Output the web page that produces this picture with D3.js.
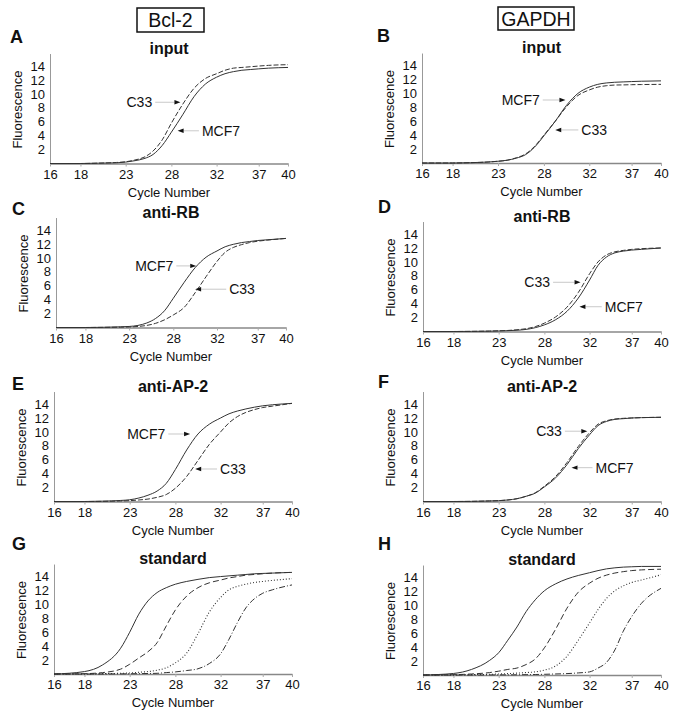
<!DOCTYPE html>
<html><head><meta charset="utf-8">
<script src="https://cdn.jsdelivr.net/npm/d3@7"></script>
<style>
body{margin:0;background:#fff}
svg{display:block;background:#fff}
text{font-family:"Liberation Sans",Arial,Helvetica,sans-serif;fill:#111}
</style>
</head><body><svg id="c" width="676" height="715"></svg>
<script>
// ---------- data ----------
const cycles = [16,18,20,22,23,24,25,26,27,28,29,30,31,32,33,34,35,36,37,38,40];
const xTickLabels = [16,18,23,28,32,37,40];
const yTickLabels = [2,4,6,8,10,12,14];
const genes = ["Bcl-2","GAPDH"];
const panelIds = ["A","B","C","D","E","F","G","H"];
const panelTitles = ["input","input","anti-RB","anti-RB","anti-AP-2","anti-AP-2","standard","standard"];

// A: Bcl-2 input
const aMCF7 = [0,0,0.05,0.1,0.2,0.4,0.7,1.3,2.6,4.5,7.0,9.6,11.4,12.4,12.9,13.2,13.4,13.5,13.6,13.7,13.8];
const aC33  = [0,0,0.05,0.15,0.25,0.5,0.9,1.8,3.4,5.8,8.5,10.8,12.2,12.9,13.4,13.7,13.8,13.9,14.0,14.1,14.2];
// B: GAPDH input
const bMCF7 = [0,0,0.05,0.15,0.25,0.4,0.7,1.2,2.3,3.9,6.0,8.3,10.0,10.9,11.3,11.5,11.6,11.65,11.7,11.75,11.8];
const bC33  = [0,0,0.05,0.15,0.25,0.4,0.75,1.3,2.4,4.0,6.0,8.1,9.7,10.5,10.9,11.1,11.2,11.22,11.25,11.27,11.3];
// C: Bcl-2 anti-RB
const cMCF7 = [0,0,0.03,0.1,0.15,0.3,0.65,1.3,2.4,4.2,6.5,8.6,10.1,11.0,11.6,11.95,12.2,12.35,12.5,12.6,12.8];
const cC33  = [0,0,0.02,0.05,0.08,0.15,0.3,0.6,1.1,1.8,2.9,5.0,7.3,9.5,10.8,11.5,11.9,12.2,12.4,12.55,12.8];
// D: GAPDH anti-RB
const dMCF7 = [0,0,0.02,0.05,0.08,0.12,0.18,0.3,0.55,0.95,1.7,2.9,4.8,7.4,9.5,10.7,11.3,11.55,11.7,11.8,12.0];
const dC33  = [0,0,0.02,0.06,0.1,0.15,0.25,0.4,0.7,1.2,2.1,3.5,5.6,8.3,10.0,11.0,11.45,11.65,11.8,11.9,12.0];
// E: Bcl-2 anti-AP-2
const eMCF7 = [0,0,0.05,0.15,0.25,0.5,0.9,1.5,2.6,4.6,7.4,9.7,11.1,12.0,12.6,13.0,13.3,13.55,13.75,13.9,14.1];
const eC33  = [0,0,0.02,0.08,0.12,0.22,0.35,0.6,1.0,1.9,3.6,5.9,8.2,10.0,11.3,12.2,12.8,13.2,13.5,13.7,14.1];
// F: GAPDH anti-AP-2
const fMCF7 = [0,0,0.02,0.08,0.12,0.22,0.4,0.75,1.2,2.1,3.4,5.3,7.6,9.6,10.9,11.5,11.8,11.9,12.0,12.05,12.1];
const fC33  = [0,0,0.02,0.08,0.12,0.22,0.4,0.75,1.25,2.2,3.6,5.6,7.9,9.9,11.1,11.6,11.85,11.95,12.0,12.05,12.1];
// G: Bcl-2 standard (4 dilutions)
const gStd1 = [0,0.35,1.3,3.7,6.0,8.6,10.5,11.7,12.4,12.9,13.3,13.6,13.85,14.0,14.1,14.2,14.3,14.4,14.45,14.5,14.6];
const gStd2 = [0,0.05,0.2,0.7,1.4,2.3,3.2,4.5,6.9,9.2,11.2,12.4,13.1,13.5,13.8,14.0,14.2,14.3,14.4,14.5,14.6];
const gStd3 = [0,0,0.05,0.1,0.15,0.25,0.35,0.55,0.9,1.6,3.0,5.8,8.9,11.0,12.1,12.6,12.9,13.15,13.3,13.45,13.7];
const gStd4 = [0,0,0,0.02,0.03,0.05,0.07,0.1,0.2,0.3,0.5,0.75,1.5,2.9,5.0,7.4,9.5,10.8,11.6,12.1,12.8];
// H: GAPDH standard
const hStd1 = [0,0.22,0.8,2.1,3.2,5.0,6.9,9.1,10.8,12.1,13.1,13.8,14.3,14.7,15.0,15.25,15.4,15.5,15.55,15.6,15.6];
const hStd2 = [0,0.05,0.15,0.35,0.55,0.8,1.0,1.5,2.3,3.9,6.6,9.6,11.9,13.2,13.9,14.35,14.65,14.85,15.0,15.1,15.2];
const hStd3 = [0,0.02,0.05,0.1,0.15,0.2,0.27,0.35,0.45,0.7,1.3,2.7,5.0,7.5,9.4,11.0,12.1,12.8,13.3,13.65,14.4];
const hStd4 = [0,0,0,0.01,0.02,0.02,0.03,0.05,0.07,0.1,0.15,0.2,0.3,0.45,1.0,1.8,3.6,6.3,8.4,10.3,12.45];

const panelSeries = {
  A:[["MCF7",aMCF7,"solid"],["C33",aC33,"dash"]],
  B:[["MCF7",bMCF7,"solid"],["C33",bC33,"dash"]],
  C:[["MCF7",cMCF7,"solid"],["C33",cC33,"dash"]],
  D:[["MCF7",dMCF7,"solid"],["C33",dC33,"dash"]],
  E:[["MCF7",eMCF7,"solid"],["C33",eC33,"dash"]],
  F:[["MCF7",fMCF7,"solid"],["C33",fC33,"dash"]],
  G:[["1",gStd1,"solid"],["2",gStd2,"longdash"],["3",gStd3,"dot"],["4",gStd4,"dashdot"]],
  H:[["1",hStd1,"solid"],["2",hStd2,"longdash"],["3",hStd3,"dot"],["4",hStd4,"dashdot"]]
};

// annotation: label, text edge (cycle), arrow tip (cycle), fluorescence level, direction
const annotations = [
  ["A","C33",25.9,28.8,8.8,"right"],["A","MCF7",30.7,28.55,4.7,"left"],
  ["B","MCF7",27.55,29.9,9.05,"right"],["B","C33",31.3,29.0,4.75,"left"],
  ["C","MCF7",28.0,30.1,8.85,"right"],["C","C33",33.5,30.0,5.5,"left"],
  ["D","C33",28.5,31.2,7.07,"right"],["D","MCF7",33.8,31.1,3.56,"left"],
  ["E","MCF7",26.9,29.3,9.7,"right"],["E","C33",31.95,29.75,4.67,"left"],
  ["F","C33",29.55,31.8,10.1,"right"],["F","MCF7",32.7,30.4,4.86,"left"]
];

// ---------- layout ----------
const axisStops = [0,0.128,0.318,0.51,0.70,0.877,1];
const yMax = 15.8, pxPerUnit = 6.96;
const layout = {
  A:{x0:50,x1:288,y0:163.5,lx:10,ly:43},
  B:{x0:422,x1:661,y0:163,lx:377,ly:42},
  C:{x0:56,x1:286,y0:327.5,lx:12,ly:215},
  D:{x0:423,x1:661,y0:331.5,lx:378,ly:213},
  E:{x0:54,x1:292,y0:501.5,lx:12,ly:390},
  F:{x0:423,x1:661,y0:501.5,lx:378,ly:388},
  G:{x0:54,x1:292,y0:674,lx:12,ly:550},
  H:{x0:423,x1:661,y0:675,lx:378,ly:550}
};
const dashes = {solid:null, dash:"5,2", longdash:"6,3", dot:"1,2", dashdot:"6,2,1,2"};

const svg = d3.select("#c");

// gene boxes
const boxes = [{x:137,y:8,w:67,h:24,cx:170.5,by:27},{x:498,y:7,w:76,h:23,cx:536,by:26}];
genes.forEach((g,i)=>{
  const b = boxes[i];
  svg.append("rect").attr("x",b.x).attr("y",b.y).attr("width",b.w).attr("height",b.h)
    .attr("fill","none").attr("stroke","#111").attr("stroke-width",1.5);
  svg.append("text").attr("x",b.cx).attr("y",b.by).attr("text-anchor","middle")
    .style("font-size","19.5px").text(g);
});

panelIds.forEach((id,pi)=>{
  const L = layout[id];
  const x = d3.scaleLinear().domain(xTickLabels)
    .range(axisStops.map(f=>L.x0 + f*(L.x1-L.x0)));
  const y = d3.scaleLinear().domain([0,yMax]).range([L.y0, L.y0 - yMax*pxPerUnit]);
  const g = svg.append("g");

  // panel letter
  g.append("text").attr("x",L.lx).attr("y",L.ly).style("font-size","18px")
    .style("font-weight","bold").text(id);
  // title
  g.append("text").attr("x",(L.x0+L.x1)/2).attr("y",L.y0-110).attr("text-anchor","middle")
    .style("font-size","16px").style("font-weight","bold").text(panelTitles[pi]);

  // x axis
  const xa = g.append("g").attr("transform",`translate(0,${L.y0})`)
    .call(d3.axisBottom(x).tickValues(xTickLabels).tickSizeInner(3).tickSizeOuter(0).tickPadding(3));
  xa.select(".domain").attr("stroke","#888").attr("stroke-width",1.3);
  xa.selectAll(".tick line").attr("stroke","#aaa");
  xa.selectAll(".tick text").style("font-size","13px").attr("fill","#111")
    .style("font-family","'Liberation Sans',Arial,sans-serif");
  // y axis
  const ya = g.append("g").attr("transform",`translate(${L.x0},0)`)
    .call(d3.axisLeft(y).tickValues(yTickLabels).tickSize(0).tickPadding(5));
  ya.select(".domain").attr("stroke","#999").attr("stroke-width",1);
  ya.selectAll(".tick text").style("font-size","13px").attr("fill","#111")
    .style("font-family","'Liberation Sans',Arial,sans-serif");

  // axis titles
  g.append("text").attr("x",(L.x0+L.x1)/2).attr("y",L.y0+33).attr("text-anchor","middle")
    .style("font-size","13px").text("Cycle Number");
  g.append("text").attr("transform",`translate(${L.x0-28},${L.y0-54}) rotate(-90)`)
    .attr("text-anchor","middle").style("font-size","13px").text("Fluorescence");

  // curves
  const line = d3.line().x(d=>x(d[0])).y(d=>y(d[1])).curve(d3.curveMonotoneX);
  panelSeries[id].forEach(([name,vals,style])=>{
    g.append("path").datum(cycles.map((c,i)=>[c,vals[i]]))
      .attr("d",line).attr("fill","none").attr("stroke","#333")
      .attr("stroke-width", style==="dot" ? 1.1 : 1)
      .attr("stroke-dasharray", dashes[style]);
  });

  // annotations
  annotations.filter(a=>a[0]===id).forEach(([p,label,tx,tipC,fl,dir])=>{
    const ty = y(fl), tip = x(tipC), txp = x(tx);
    const s = dir==="right" ? -1 : 1;
    g.append("line").attr("x1",txp - s*3).attr("x2",tip + s*6).attr("y1",ty).attr("y2",ty)
      .attr("stroke","#bbb").attr("stroke-width",0.8);
    g.append("path").attr("d",`M${tip},${ty}L${tip+s*6},${ty-2.2}L${tip+s*6},${ty+2.2}Z`).attr("fill","#111");
    g.append("text").attr("x",txp).attr("y",ty+5).attr("text-anchor",dir==="right"?"end":"start")
      .style("font-size","14px").text(label);
  });
});
</script>
</body></html>
